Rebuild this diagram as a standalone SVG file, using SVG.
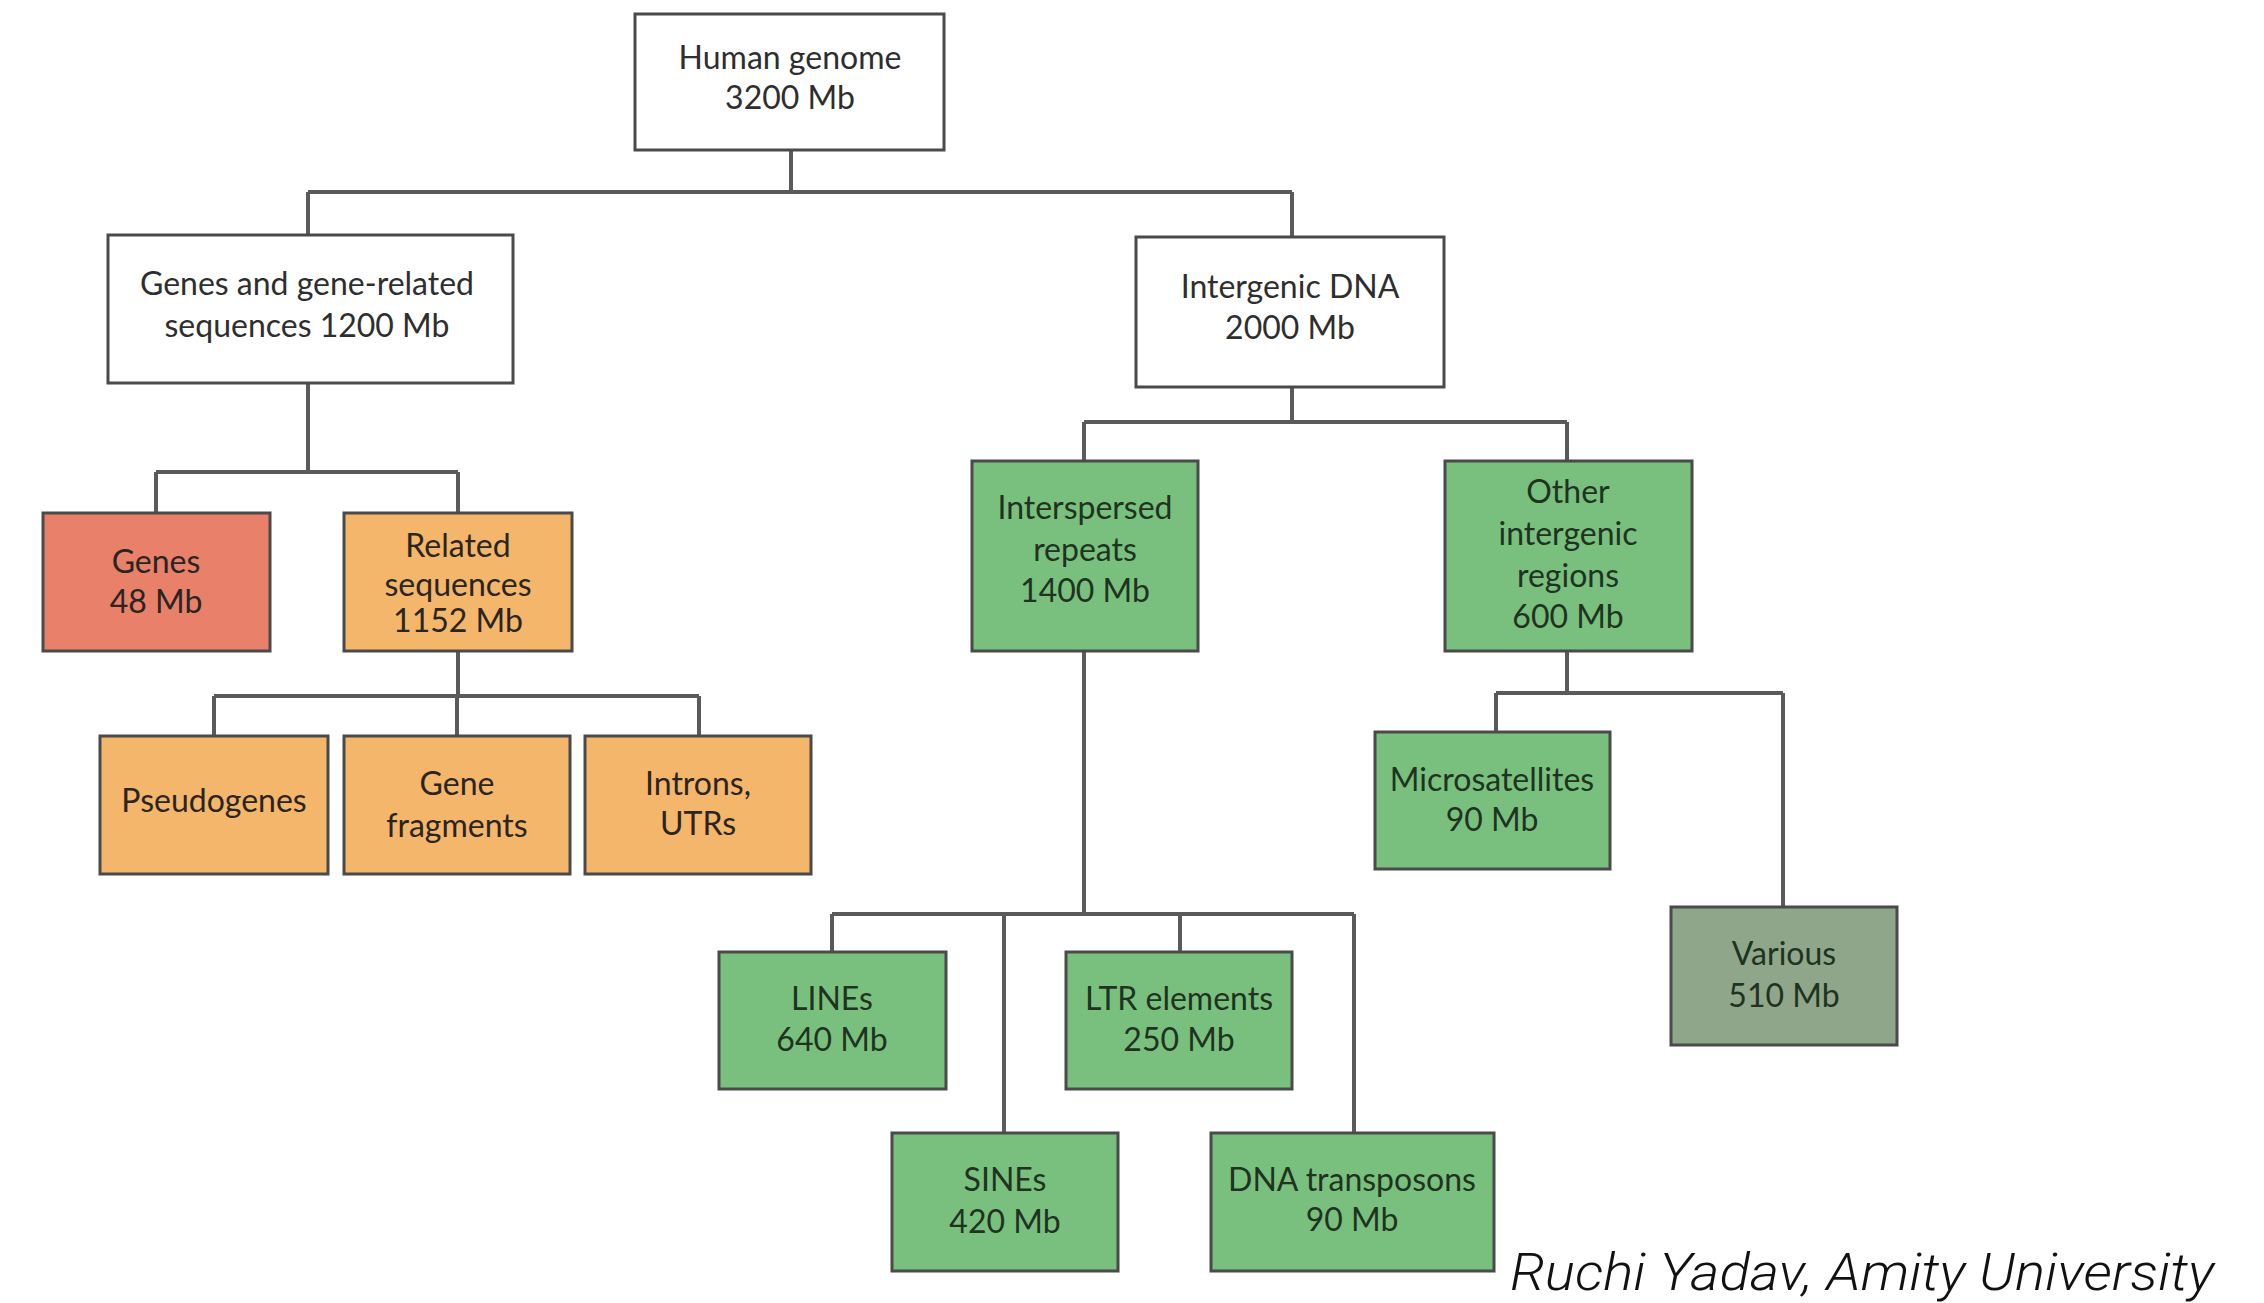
<svg xmlns="http://www.w3.org/2000/svg" width="2264" height="1303" viewBox="0 0 2264 1303">
<style>
.box{stroke:#4a4a4a;stroke-width:3}
.white{fill:#ffffff}
.red{fill:#E8806A}
.orange{fill:#F4B66B}
.green{fill:#79C07F}
.grey{fill:#8FA68B}
.t{font-family:Lato,"Open Sans","DejaVu Sans",sans-serif;font-size:32px;text-anchor:middle;fill:#2e2e2e}
.d{fill:#2a2520}
.g{fill:#1f3320}
.conn{fill:none;stroke:#5a5a5a;stroke-width:4}
.credit{font-family:Roboto,"Liberation Sans",sans-serif;font-weight:300;font-style:italic;font-size:52px;fill:#111}
</style>
<rect width="2264" height="1303" fill="#ffffff"/>
<g id="connectors">
<path class="conn" d="M791 150V192M308 192H1292M308 192V235M1292 192V237"/>
<path class="conn" d="M308 383V472M156 472H458M156 472V513M458 472V513"/>
<path class="conn" d="M458 651V696M214 696H699M214 696V736M457 696V736M699 696V736"/>
<path class="conn" d="M1292 387V422M1084 422H1567M1084 422V461M1567 422V461"/>
<path class="conn" d="M1567 651V693M1496 693H1783M1496 693V732M1783 693V907"/>
<path class="conn" d="M1084 651V914M832 914H1354M832 914V952M1180 914V952M1004 914V1133M1354 914V1133"/>
</g>
<g id="human-genome"><rect class="box white" x="635" y="14" width="309" height="136"/><text class="t" x="790" y="69">Human genome</text><text class="t" x="790" y="109">3200 Mb</text></g>
<g id="genes-related"><rect class="box white" x="108" y="235" width="405" height="148"/><text class="t" x="307" y="295">Genes and gene-related</text><text class="t" x="307" y="337">sequences 1200 Mb</text></g>
<g id="intergenic"><rect class="box white" x="1136" y="237" width="308" height="150"/><text class="t" x="1290" y="298">Intergenic DNA</text><text class="t" x="1290" y="339">2000 Mb</text></g>
<g id="genes"><rect class="box red" x="43" y="513" width="227" height="138"/><text class="t d" x="156" y="573">Genes</text><text class="t d" x="156" y="613">48 Mb</text></g>
<g id="related"><rect class="box orange" x="344" y="513" width="228" height="138"/><text class="t d" x="458" y="557">Related</text><text class="t d" x="458" y="596">sequences</text><text class="t d" x="458" y="632">1152 Mb</text></g>
<g id="pseudogenes"><rect class="box orange" x="100" y="736" width="228" height="138"/><text class="t d" x="214" y="812">Pseudogenes</text></g>
<g id="gene-fragments"><rect class="box orange" x="344" y="736" width="226" height="138"/><text class="t d" x="457" y="795">Gene</text><text class="t d" x="457" y="837">fragments</text></g>
<g id="introns"><rect class="box orange" x="585" y="736" width="226" height="138"/><text class="t d" x="698" y="795">Introns,</text><text class="t d" x="698" y="835">UTRs</text></g>
<g id="interspersed"><rect class="box green" x="972" y="461" width="226" height="190"/><text class="t g" x="1085" y="519">Interspersed</text><text class="t g" x="1085" y="561">repeats</text><text class="t g" x="1085" y="602">1400 Mb</text></g>
<g id="other-intergenic"><rect class="box green" x="1445" y="461" width="247" height="190"/><text class="t g" x="1568" y="503">Other</text><text class="t g" x="1568" y="545">intergenic</text><text class="t g" x="1568" y="587">regions</text><text class="t g" x="1568" y="628">600 Mb</text></g>
<g id="microsatellites"><rect class="box green" x="1375" y="732" width="235" height="137"/><text class="t g" x="1492" y="791">Microsatellites</text><text class="t g" x="1492" y="831">90 Mb</text></g>
<g id="various"><rect class="box grey" x="1671" y="907" width="226" height="138"/><text class="t g" x="1784" y="965">Various</text><text class="t g" x="1784" y="1007">510 Mb</text></g>
<g id="lines"><rect class="box green" x="719" y="952" width="227" height="137"/><text class="t g" x="832" y="1010">LINEs</text><text class="t g" x="832" y="1051">640 Mb</text></g>
<g id="ltr"><rect class="box green" x="1066" y="952" width="226" height="137"/><text class="t g" x="1179" y="1010">LTR elements</text><text class="t g" x="1179" y="1051">250 Mb</text></g>
<g id="sines"><rect class="box green" x="892" y="1133" width="226" height="138"/><text class="t g" x="1005" y="1191">SINEs</text><text class="t g" x="1005" y="1233">420 Mb</text></g>
<g id="dna-transposons"><rect class="box green" x="1211" y="1133" width="283" height="138"/><text class="t g" x="1352" y="1191">DNA transposons</text><text class="t g" x="1352" y="1231">90 Mb</text></g>
<text class="credit" x="1510" y="1290" textLength="704" lengthAdjust="spacingAndGlyphs">Ruchi Yadav, Amity University</text>
</svg>
